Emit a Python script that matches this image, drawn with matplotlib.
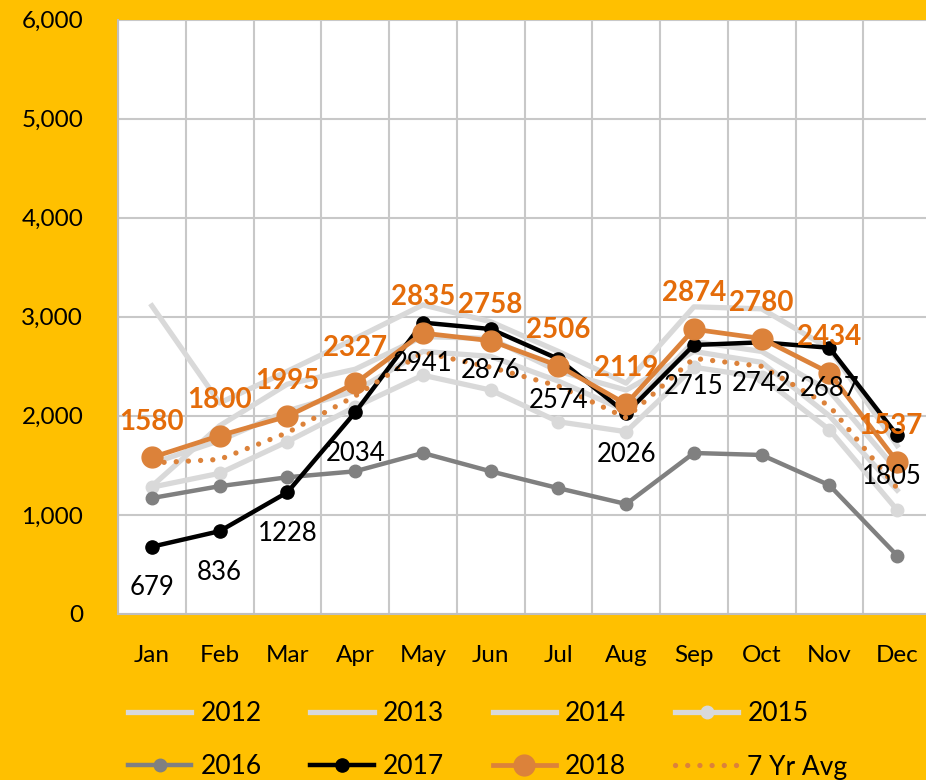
import numpy as np
import matplotlib.pyplot as plt
from matplotlib.ticker import FuncFormatter

# monthly values
months = ['Jan', 'Feb', 'Mar', 'Apr', 'May', 'Jun', 'Jul', 'Aug', 'Sep', 'Oct', 'Nov', 'Dec']
y2012 = [3110, 2130, 2450, 2780, 3120, 2950, 2650, 2330, 3100, 3080, 2680, 1700]
y2013 = [1290, 1900, 2320, 2470, 2800, 2780, 2450, 2260, 2650, 2540, 2000, 1250]
y2014 = [1520, 1750, 2050, 2250, 2650, 2600, 2350, 2050, 2750, 2650, 2250, 1450]
y2015 = [1280, 1420, 1740, 2090, 2410, 2260, 1940, 1840, 2490, 2390, 1860, 1050]
y2016 = [1170, 1290, 1380, 1440, 1625, 1440, 1270, 1110, 1625, 1605, 1300, 590]
y2017 = [679, 836, 1228, 2034, 2941, 2876, 2574, 2026, 2715, 2742, 2687, 1805]
y2018 = [1580, 1800, 1995, 2327, 2835, 2758, 2506, 2119, 2874, 2780, 2434, 1537]
avg7 = [1524, 1560, 1830, 2200, 2640, 2490, 2300, 1980, 2580, 2500, 2100, 1270]

plt.rcParams['font.family'] = ['Lato', 'DejaVu Sans']

bg = '#FFC000'
light = '#D9D9D9'
orange = '#DC823A'
orange_txt = '#E46C0A'

fig = plt.figure(figsize=(9.26, 7.80), dpi=100, facecolor=bg)
ax = fig.add_axes([118 / 926, 1 - 614 / 780, 813 / 926, 594.5 / 780])
x = np.arange(len(months))

l12, = ax.plot(x, y2012, color=light, lw=3.8, label='2012')
l13, = ax.plot(x, y2013, color=light, lw=3.8, label='2013')
l14, = ax.plot(x, y2014, color=light, lw=3.8, label='2014')
l15, = ax.plot(x, y2015, color=light, lw=3.8, marker='o', ms=9, label='2015')
l16, = ax.plot(x, y2016, color='#808080', lw=3.2, marker='o', ms=9, label='2016')
l17, = ax.plot(x, y2017, color='black', lw=3.2, marker='o', ms=9.5, label='2017')
l18, = ax.plot(x, y2018, color=orange, lw=3.4, marker='o', ms=15, label='2018')
lav, = ax.plot(x, avg7, color=orange, lw=3.8, linestyle=(0, (0.01, 2.3)),
               dash_capstyle='round', label='7 Yr Avg')

# data labels (last ones nudged left so they stay inside the picture)
for i, v in enumerate(y2018):
    dx = -5 if i == len(months) - 1 else 0
    ax.annotate(str(v), (i, v), xytext=(dx, 20), textcoords='offset points',
                ha='center', va='baseline', color=orange_txt, fontweight='bold',
                fontsize=20, annotation_clip=False)
for i, v in enumerate(y2017):
    dx = -4 if i == len(months) - 1 else 0
    ax.annotate(str(v), (i, v), xytext=(dx, -35), textcoords='offset points',
                ha='center', va='baseline', color='black', fontsize=18.5,
                annotation_clip=False)

ax.set_xlim(-0.5, 11.5)
ax.set_ylim(0, 6000)
ax.set_xticks(x)
ax.set_xticklabels(months)
ax.set_yticks(range(0, 7000, 1000))
ax.yaxis.set_major_formatter(FuncFormatter(lambda v, p: f'{int(v):,}'))
ax.set_xticks(np.arange(-0.5, 12, 1), minor=True)
ax.tick_params(axis='both', which='both', length=0, labelsize=17.5)
ax.tick_params(axis='x', pad=22)
ax.tick_params(axis='y', pad=25)

ax.grid(which='minor', axis='x', color='#C8C8C8', lw=1.5)
ax.grid(which='major', axis='y', color='#C8C8C8', lw=1.5)
ax.set_axisbelow(True)
for s in ['top', 'right']:
    ax.spines[s].set_visible(False)
for s in ['left', 'bottom']:
    ax.spines[s].set_color('#BFBFBF')
    ax.spines[s].set_linewidth(1.5)

# legend, row-wise order
handles = [l12, l16, l13, l17, l14, l18, l15, lav]
fig.legend(handles, [h.get_label() for h in handles], loc='upper left',
           bbox_to_anchor=(128 / 926, 1 - 701 / 780), ncol=4, frameon=False,
           fontsize=19, handlelength=2.4, handletextpad=0.34, columnspacing=1.85,
           labelspacing=1.08, borderpad=0, borderaxespad=0)

plt.savefig('out.png', dpi=100, facecolor=bg)
